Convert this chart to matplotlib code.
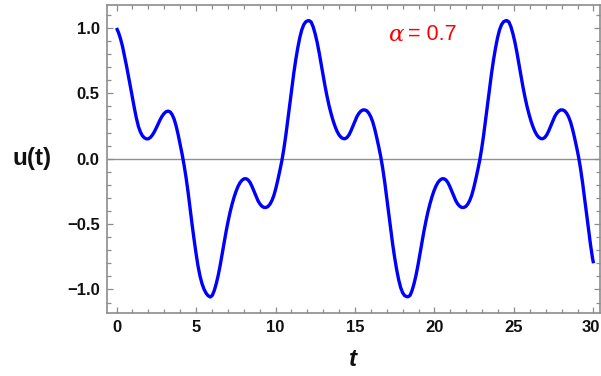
import matplotlib
matplotlib.use("Agg")
import matplotlib.pyplot as plt
from matplotlib.ticker import MultipleLocator
from matplotlib.transforms import ScaledTranslation

# ---- data ----
# first descent, t = 0 ... 5.9
first_t = [0.125 * k for k in range(47)] + [5.9]
first_u = [
    1.0, 0.965, 0.918, 0.86, 0.787, 0.712, 0.633, 0.55, 0.466, 0.385, 0.31, 0.248,
    0.205, 0.176, 0.16, 0.152, 0.152, 0.162, 0.18, 0.205, 0.235, 0.268, 0.3, 0.327,
    0.347, 0.36, 0.364, 0.358, 0.337, 0.302, 0.25, 0.185, 0.11, 0.035, -0.05, -0.145,
    -0.255, -0.38, -0.5, -0.615, -0.723, -0.82, -0.897, -0.955, -0.997, -1.027, -1.047, -1.058,
]
# time after each extremum (minimum or maximum) at which the later half-cycles were read
half_offsets = [0.125 * k for k in range(1, 50)] + [6.22]
# half-cycle rising from a minimum (t = 5.9 ... 12.12 and 18.34 ... 24.56)
rise_u = [
    -1.045, -1.008, -0.955, -0.89, -0.812, -0.727, -0.638, -0.552, -0.475, -0.405,
    -0.345, -0.292, -0.247, -0.21, -0.182, -0.164, -0.154, -0.153, -0.162, -0.182,
    -0.213, -0.25, -0.289, -0.322, -0.347, -0.364, -0.373, -0.373, -0.366, -0.348,
    -0.32, -0.28, -0.225, -0.16, -0.09, -0.015, 0.075, 0.18, 0.3, 0.425,
    0.545, 0.655, 0.758, 0.848, 0.925, 0.985, 1.025, 1.047, 1.055, 1.056,
]
# half-cycle falling from a maximum (t = 12.12 ... 18.34 and 24.56 ... 30)
fall_u = [
    1.045, 1.008, 0.955, 0.89, 0.812, 0.727, 0.638, 0.552, 0.475, 0.405,
    0.345, 0.292, 0.247, 0.21, 0.182, 0.164, 0.154, 0.153, 0.162, 0.182,
    0.213, 0.25, 0.289, 0.322, 0.347, 0.364, 0.373, 0.373, 0.366, 0.348,
    0.32, 0.28, 0.225, 0.16, 0.09, 0.015, -0.075, -0.18, -0.3, -0.425,
    -0.545, -0.655, -0.758, -0.848, -0.925, -0.985, -1.025, -1.047, -1.055, -1.056,
]
extremum_times = [5.9, 12.12, 18.34, 24.56]
end_t = 30.0
end_u = -0.80

x_ticks = [0, 5, 10, 15, 20, 25, 30]
y_ticks = [-1.0, -0.5, 0.0, 0.5, 1.0]
y_tick_labels = ["\u22121.0", "\u22120.5", "0.0", "0.5", "1.0"]
x_label = "t"
y_label = "u(t)"
annotation = "= 0.7"

# assemble the series
t_values = list(first_t)
u_values = list(first_u)
for start, shape in zip(extremum_times, [rise_u, fall_u, rise_u, fall_u]):
    for off, val in zip(half_offsets, shape):
        if start + off < end_t:
            t_values.append(start + off)
            u_values.append(val)
t_values.append(end_t)
u_values.append(end_u)

plt.rcParams["font.family"] = ["Liberation Sans", "DejaVu Sans"]

fig = plt.figure(figsize=(6.01, 3.76), dpi=100)
ax = fig.add_axes([107.3 / 601, (376 - 312.7) / 376, (600 - 107.3) / 601, 308 / 376])

frame_gray = "#8c8c8c"
ax.axhline(0, color="#909090", lw=1.0, zorder=1)
ax.plot(t_values, u_values, color="#0000ff", lw=2.4, solid_capstyle="butt",
        solid_joinstyle="round", zorder=3)

ax.set_xlim(-0.58, 30.41)
ax.set_ylim(-1.178, 1.178)

ax.set_xticks(x_ticks)
ax.set_xticklabels([str(v) for v in x_ticks])
ax.set_yticks(y_ticks)
ax.set_yticklabels(y_tick_labels)
ax.xaxis.set_minor_locator(MultipleLocator(1))
ax.yaxis.set_minor_locator(MultipleLocator(0.1))

for s in ax.spines.values():
    s.set_color(frame_gray)
    s.set_linewidth(1.2)

ax.tick_params(which="both", direction="in", top=True, right=True, color=frame_gray, width=0.9)
ax.tick_params(which="major", length=4.5)
ax.tick_params(which="minor", length=2.6)
ax.tick_params(axis="y", which="major", pad=5.5)
ax.tick_params(axis="x", which="major", pad=5.5)
for lab in ax.get_xticklabels() + ax.get_yticklabels():
    lab.set_fontweight("bold")
    lab.set_fontsize(12)
    lab.set_color("#111111")

# keep the last x label ("30") inside the picture
last = ax.xaxis.get_major_ticks()[-1].label1
last.set_transform(last.get_transform() + ScaledTranslation(-3 / 100, 0, fig.dpi_scale_trans))

fig.text(32 / 601, 1 - 159 / 376, y_label, fontsize=17.5, fontweight="bold",
         ha="center", va="center", color="#111111")
fig.text(353 / 601, 1 - 360 / 376, x_label, fontsize=17.5, fontweight="bold", style="italic",
         ha="center", va="center", color="#111111")

fig.text(388 / 601, 1 - 35 / 376, "\u03b1", fontsize=16.5, style="italic", color="#ff0000",
         ha="left", va="center", family=["DejaVu Serif"])
fig.text(408 / 601, 1 - 35 / 376, annotation, fontsize=15.5, color="#ff0000",
         ha="left", va="center")

fig.savefig("out.png", dpi=100)
